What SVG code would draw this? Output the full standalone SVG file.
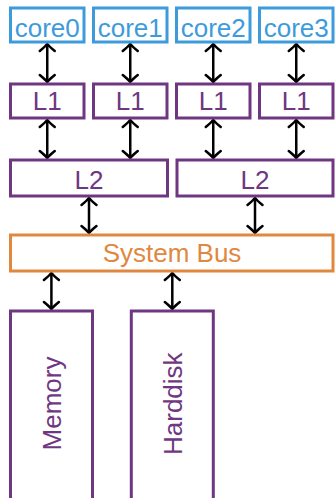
<svg xmlns="http://www.w3.org/2000/svg" width="335" height="498" viewBox="0 0 335 498">
<style>
.box{fill:#fff;stroke-width:3}
.core{stroke:#3d9bdc}
.cache{stroke:#6f3682}
.bus{stroke:#e0883f}
text{font-family:"Liberation Sans",Arial,sans-serif;font-size:26px;text-anchor:middle}
.tcore{fill:#3d9bdc}
.tcache{fill:#6f3682}
.tbus{fill:#e0883f}
.arr{stroke:#000;stroke-width:2.5;fill:none;marker-start:url(#ah);marker-end:url(#ah)}
</style>
<defs>
<marker id="ah" markerUnits="userSpaceOnUse" viewBox="-10 -10 12 20" refX="0" refY="0" markerWidth="12" markerHeight="20" orient="auto-start-reverse" overflow="visible">
<path d="M-7,-7.5 Q-2.5,-2 0,0 Q-2.5,2 -7,7.5" fill="none" stroke="#000" stroke-width="2.5" stroke-linecap="round"/>
</marker>
</defs>
<g id="connectors">
<line class="arr" x1="47.25" y1="44" x2="47.25" y2="82"/>
<line class="arr" x1="130.25" y1="44" x2="130.25" y2="82"/>
<line class="arr" x1="213.25" y1="44" x2="213.25" y2="82"/>
<line class="arr" x1="296.25" y1="44" x2="296.25" y2="82"/>
<line class="arr" x1="47.25" y1="120" x2="47.25" y2="158"/>
<line class="arr" x1="130.25" y1="120" x2="130.25" y2="158"/>
<line class="arr" x1="213.25" y1="120" x2="213.25" y2="158"/>
<line class="arr" x1="296.25" y1="120" x2="296.25" y2="158"/>
<line class="arr" x1="89" y1="198" x2="89" y2="233"/>
<line class="arr" x1="255" y1="198" x2="255" y2="233"/>
<line class="arr" x1="51.4" y1="273" x2="51.4" y2="309"/>
<line class="arr" x1="172.3" y1="273" x2="172.3" y2="309"/>
</g>
<g id="core0"><rect class="box core" x="10.5" y="8" width="73.5" height="34"/><text class="tcore" x="47.25" y="37">core0</text></g>
<g id="core1"><rect class="box core" x="93.5" y="8" width="73.5" height="34"/><text class="tcore" x="130.25" y="37">core1</text></g>
<g id="core2"><rect class="box core" x="176.5" y="8" width="73.5" height="34"/><text class="tcore" x="213.25" y="37">core2</text></g>
<g id="core3"><rect class="box core" x="259.5" y="8" width="73.5" height="34"/><text class="tcore" x="296.25" y="37">core3</text></g>
<g id="l1_0"><rect class="box cache" x="10.5" y="84" width="73.5" height="34"/><text class="tcache" x="47.25" y="109.5">L1</text></g>
<g id="l1_1"><rect class="box cache" x="93.5" y="84" width="73.5" height="34"/><text class="tcache" x="130.25" y="109.5">L1</text></g>
<g id="l1_2"><rect class="box cache" x="176.5" y="84" width="73.5" height="34"/><text class="tcache" x="213.25" y="109.5">L1</text></g>
<g id="l1_3"><rect class="box cache" x="259.5" y="84" width="73.5" height="34"/><text class="tcache" x="296.25" y="109.5">L1</text></g>
<g id="l2_0"><rect class="box cache" x="10.5" y="160" width="157" height="36"/><text class="tcache" x="89" y="188.5">L2</text></g>
<g id="l2_1"><rect class="box cache" x="177" y="160" width="156" height="36"/><text class="tcache" x="255" y="188.5">L2</text></g>
<g id="bus"><rect class="box bus" x="10.5" y="235" width="322.5" height="36"/><text class="tbus" x="172" y="261.5">System Bus</text></g>
<g id="memory"><rect class="box cache" x="10.5" y="311" width="82" height="200"/><text class="tcache" transform="translate(61,403.5) rotate(-90)">Memory</text></g>
<g id="harddisk"><rect class="box cache" x="131.3" y="311" width="82" height="200"/><text class="tcache" transform="translate(181.5,403.7) rotate(-90)">Harddisk</text></g>
</svg>
